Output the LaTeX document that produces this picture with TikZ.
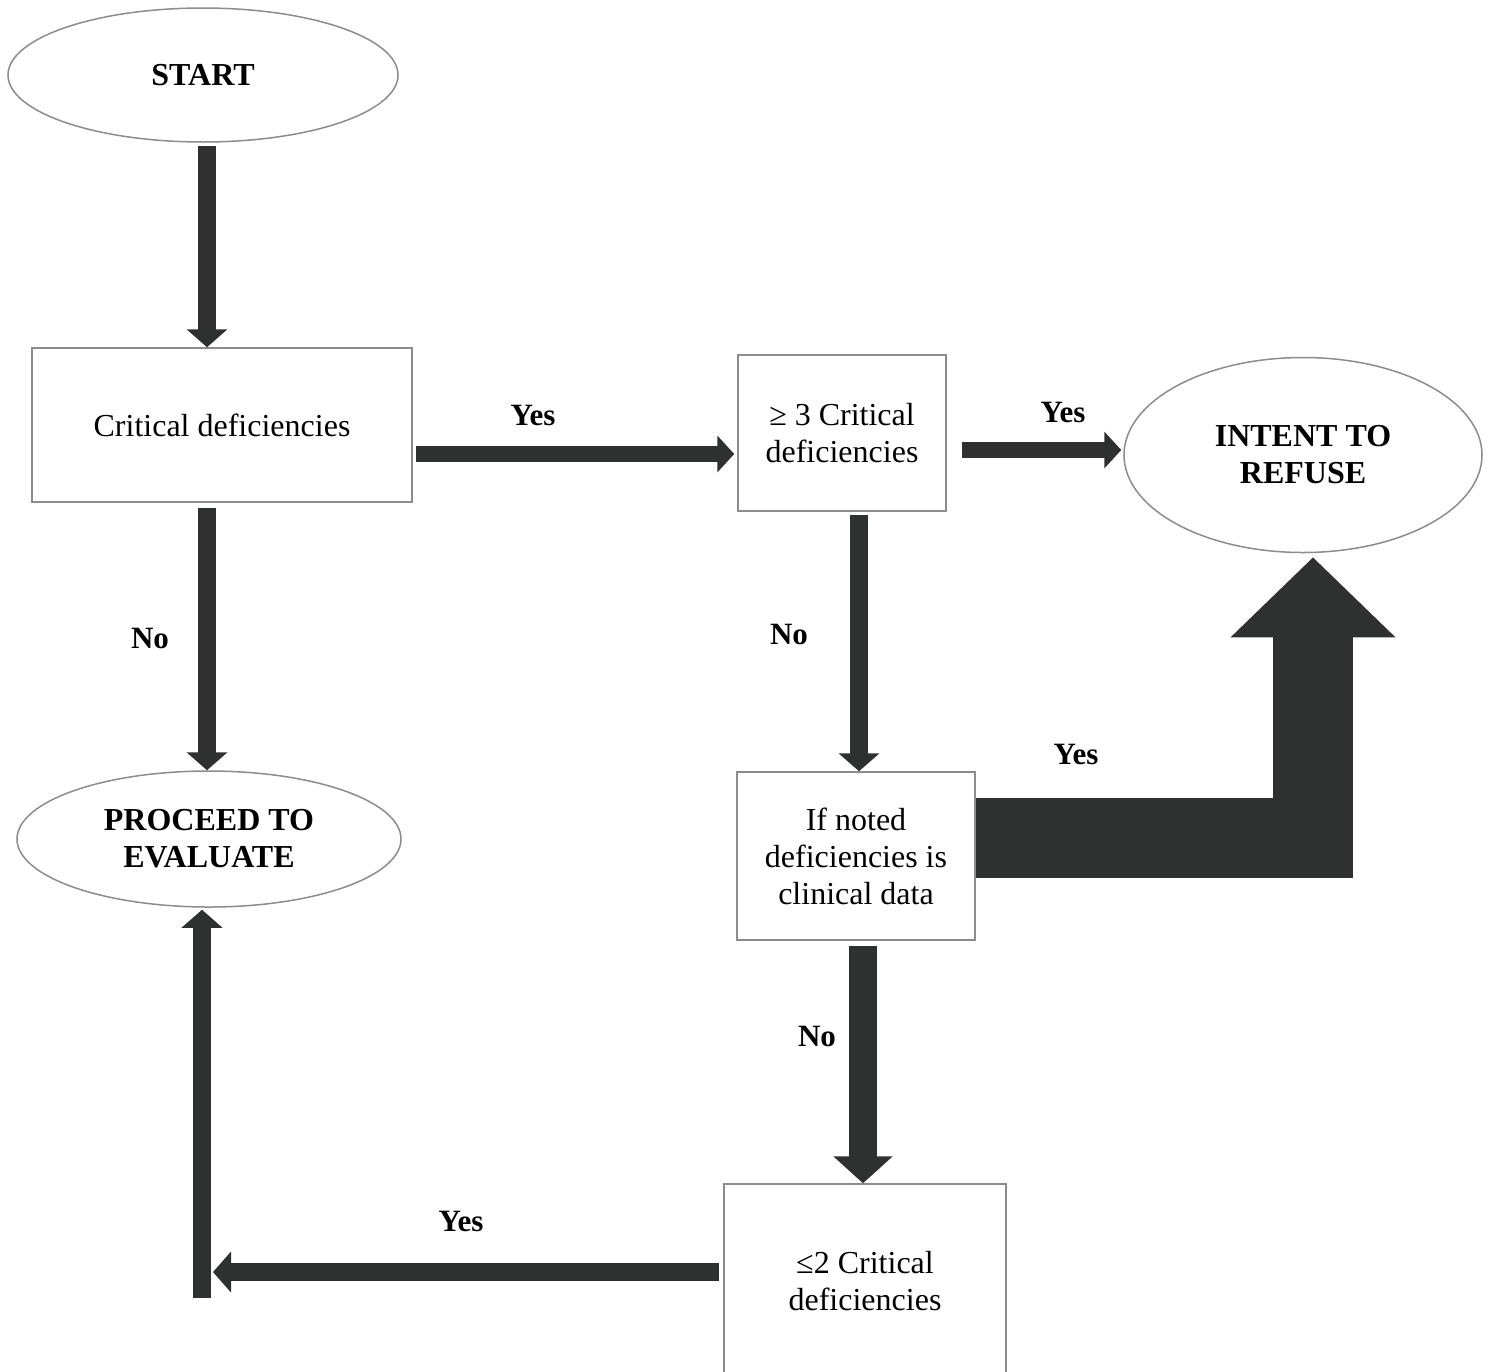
\documentclass[tikz,border=0pt]{standalone}
\usepackage{fontspec}
\setmainfont{Liberation Serif}
\usetikzlibrary{shapes.geometric,arrows.meta}
\definecolor{boxgray}{HTML}{8C8C8C}
\definecolor{arrowgray}{HTML}{2F3131}
\begin{document}
\begin{tikzpicture}[x=0.5pt,y=-0.5pt,
  box/.style={draw=boxgray,line width=0.75pt,rectangle,inner sep=0pt,align=center},
  txt/.style={align=center,inner sep=0pt,font=\fontsize{16}{18.5}\selectfont},
  oval/.style={draw=boxgray,line width=0.75pt,ellipse,inner sep=0pt,align=center,font=\bfseries\fontsize{16}{18.5}\selectfont},
  lbl/.style={font=\bfseries\fontsize{15.5}{18}\selectfont,inner sep=0pt},
  fat/.style={draw=arrowgray,line width=9pt,-{Triangle[width=20pt,length=9pt]}},
  fatH/.style={draw=arrowgray,line width=8pt,-{Triangle[width=18pt,length=8.5pt]}},
  fatW/.style={draw=arrowgray,line width=14pt,-{Triangle[width=29pt,length=13.5pt]}},
  huge/.style={draw=arrowgray,line width=40pt,line join=miter,-{Triangle[width=80pt,length=40pt]}}
]
\useasboundingbox (0,0) rectangle (1491,1371);
\fill[white] (0,0) rectangle (1491,1371);
\clip (0,0) rectangle (1491,1371);

% nodes
\node[oval,minimum width=195pt,minimum height=67pt] (start) at (203,75) {START};
\node[box,txt,minimum width=190pt,minimum height=77pt] (b1) at (222,425) {Critical deficiencies};
\node[oval,minimum width=192pt,minimum height=68pt] (proceed) at (209,839) {PROCEED TO\\EVALUATE};
\node[box,txt,minimum width=104pt,minimum height=78pt] (b2) at (842,433) {≥ 3 Critical\\deficiencies};
\node[oval,minimum width=179pt,minimum height=97.5pt] (refuse) at (1303,455) {INTENT TO\\REFUSE};
\node[box,txt,minimum width=119pt,minimum height=84pt] (b3) at (856,856) {If noted\\deficiencies is\\clinical data};
\node[box,minimum width=141pt,minimum height=130pt] (b4) at (865,1314) {};
\node[txt] (b4t) at (865,1281) {≤2 Critical\\deficiencies};

% labels
\node[lbl] (l1) at (533,415) {Yes};
\node[lbl] (l2) at (1063,412) {Yes};
\node[lbl] (l3) at (150,638) {No};
\node[lbl] (l4) at (789,634) {No};
\node[lbl] (l5) at (1076,754) {Yes};
\node[lbl] (l6) at (817,1036) {No};
\node[lbl] (l7) at (461,1221) {Yes};

% helper coordinates
\coordinate (bend) at (1313,837.5);
\coordinate (corner) at (213,1272);
\coordinate (foot) at (202,1298);

% connectors
\draw[fat,shorten <=1.5pt] (start.south -| 207,0) -- (b1.north -| 207,0);
\draw[fat,shorten <=2.5pt] (b1.south -| 207,0) -- (proceed.north -| 207,0);
\draw[fatH,shorten <=1.5pt,shorten >=1.5pt] (b1.east |- 0,454) -- (b2.west |- 0,454);
\draw[fatH,shorten <=7.5pt,shorten >=1pt] (b2.east |- 0,450) -- (refuse.west |- 0,450);
\draw[fat,shorten <=1.5pt] (b2.south -| 859,0) -- (b3.north -| 859,0);
\draw[fatW,shorten <=2.5pt] (b3.south -| 863,0) -- (b4.north -| 863,0);
\draw[fat,shorten <=2pt] (b4.west |- corner) -- (corner);
\draw[fat,shorten >=1pt] (foot) -- (proceed.south -| foot);
\draw[huge,shorten >=2pt] (b3.east |- bend) -- (bend) -- (bend |- refuse.south);
\end{tikzpicture}
\end{document}
